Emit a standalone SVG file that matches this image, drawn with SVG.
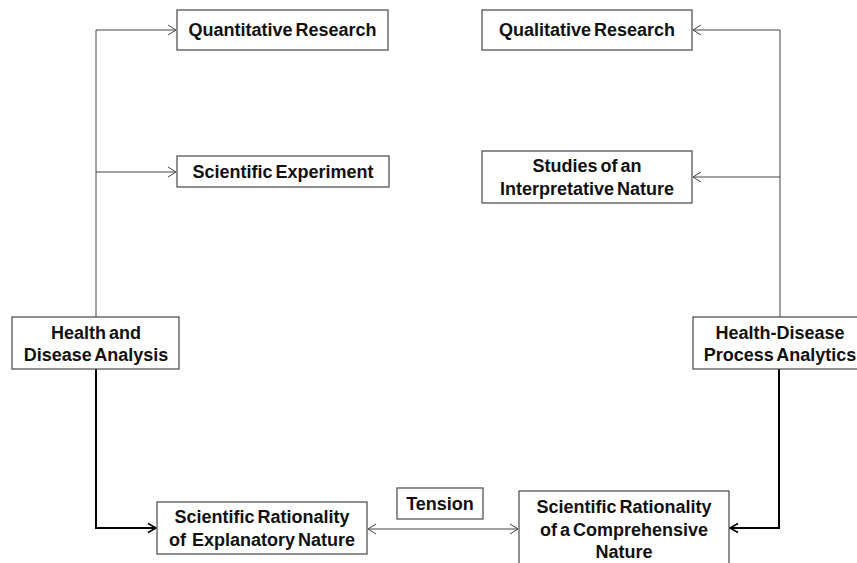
<svg xmlns="http://www.w3.org/2000/svg" width="857" height="563" viewBox="0 0 857 563">
<defs>
<style>
.box{fill:#fff;stroke:#555;stroke-width:1.3}
.t{font-family:"Liberation Sans",Arial,sans-serif;font-weight:bold;font-size:18px;fill:#111;text-anchor:middle;word-spacing:-2px}
.thin{fill:none;stroke:#444;stroke-width:1}
.thick{fill:none;stroke:#000;stroke-width:2}
</style>
<marker id="a" markerWidth="12" markerHeight="12" refX="10" refY="6" orient="auto-start-reverse" markerUnits="userSpaceOnUse">
<path d="M2,1 L10,6 L2,11" fill="none" stroke="#444" stroke-width="1"/>
</marker>
<marker id="ab" markerWidth="12" markerHeight="12" refX="10" refY="6" orient="auto" markerUnits="userSpaceOnUse">
<path d="M2,1.5 L10,6 L2,10.5" fill="none" stroke="#000" stroke-width="1.6"/>
</marker>
</defs>
<rect width="857" height="563" fill="#fff"/>
<g id="connectors">
<path class="thin" d="M96,317 V30 H176" marker-end="url(#a)"/>
<path class="thin" d="M96,172 H176" marker-end="url(#a)"/>
<path class="thin" d="M780,317 V30 H693" marker-end="url(#a)"/>
<path class="thin" d="M780,177 H693" marker-end="url(#a)"/>
<path class="thick" d="M96,369 V528 H156" marker-end="url(#ab)"/>
<path class="thick" d="M779,369 V528 H730" marker-end="url(#ab)"/>
<path class="thin" d="M368,529 H518" marker-start="url(#a)" marker-end="url(#a)"/>
</g>
<g id="quantitative">
<rect class="box" x="177" y="10" width="211" height="40"/>
<text class="t" x="282.5" y="36">Quantitative Research</text>
</g>
<g id="experiment">
<rect class="box" x="177" y="156" width="212" height="31"/>
<text class="t" x="283" y="178">Scientific Experiment</text>
</g>
<g id="qualitative">
<rect class="box" x="482" y="10" width="210" height="40"/>
<text class="t" x="587" y="36">Qualitative Research</text>
</g>
<g id="interpretative">
<rect class="box" x="482" y="151" width="210" height="52"/>
<text class="t" x="587" y="172">Studies of an</text>
<text class="t" x="587" y="195">Interpretative Nature</text>
</g>
<g id="health-analysis">
<rect class="box" x="12" y="317" width="167" height="52"/>
<text class="t" x="96" y="339">Health and</text>
<text class="t" x="96" y="361">Disease Analysis</text>
</g>
<g id="health-process">
<rect class="box" x="693" y="317" width="170" height="52"/>
<text class="t" x="780" y="339">Health-Disease</text>
<text class="t" x="780" y="361">Process Analytics</text>
</g>
<g id="explanatory">
<rect class="box" x="157" y="502" width="210" height="52"/>
<text class="t" x="262" y="523">Scientific Rationality</text>
<text class="t" x="262" y="546" xml:space="preserve">of  Explanatory Nature</text>
</g>
<g id="tension">
<rect class="box" x="397" y="488" width="86" height="31"/>
<text class="t" x="440" y="510">Tension</text>
</g>
<g id="comprehensive">
<rect class="box" x="519" y="491" width="210" height="80"/>
<text class="t" x="624" y="513">Scientific Rationality</text>
<text class="t" x="624" y="536">of a Comprehensive</text>
<text class="t" x="624" y="558">Nature</text>
</g>
</svg>
